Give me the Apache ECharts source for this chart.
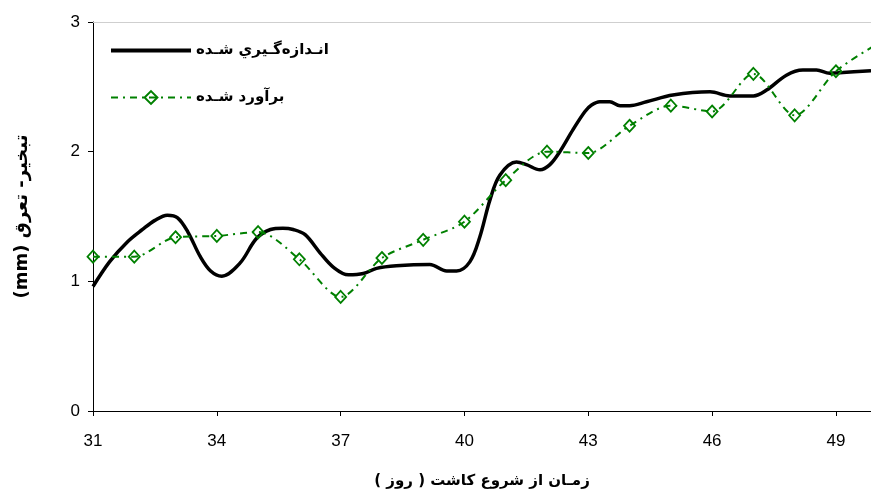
<!DOCTYPE html>
<html>
<head>
<meta charset="utf-8">
<script src="https://cdn.jsdelivr.net/npm/echarts@6/dist/echarts.min.js"></script>
<style>
html,body{margin:0;padding:0;background:#fff;}
#chart{width:871px;height:497px;}
</style>
</head>
<body>
<div id="chart"></div>
<script>
// ---- data ----
const measuredDays = [31.0, 31.4, 31.82, 32.2, 32.5, 32.8, 33.05, 33.3, 33.6, 33.85, 34.12, 34.56, 34.96, 35.3, 35.6, 35.85, 36.14, 36.5, 36.82, 37.19, 37.55, 37.87, 38.35, 39.16, 39.57, 39.81, 40.13, 40.37, 40.62, 40.86, 41.26, 41.5, 41.83, 42.07, 42.31, 42.63, 42.92, 43.08, 43.28, 43.52, 43.77, 44.0, 44.41, 45.05, 45.95, 46.43, 47.0, 47.32, 47.8, 48.2, 48.53, 48.85, 49.17, 49.85];
const measuredValues = [0.96, 1.15, 1.30, 1.40, 1.47, 1.51, 1.49, 1.38, 1.19, 1.08, 1.04, 1.14, 1.33, 1.40, 1.41, 1.40, 1.36, 1.22, 1.11, 1.05, 1.06, 1.10, 1.12, 1.13, 1.08, 1.08, 1.15, 1.34, 1.63, 1.82, 1.92, 1.90, 1.86, 1.90, 2.00, 2.17, 2.31, 2.36, 2.385, 2.385, 2.355, 2.355, 2.385, 2.437, 2.462, 2.43, 2.43, 2.475, 2.59, 2.63, 2.63, 2.605, 2.61, 2.625];
const estimatedDays = [31, 32, 33, 34, 35, 36, 37, 38, 39, 40, 41, 42, 43, 44, 45, 46, 47, 48, 49, 50];
const estimatedValues = [1.19, 1.19, 1.34, 1.35, 1.38, 1.17, 0.88, 1.18, 1.32, 1.46, 1.78, 2.00, 1.99, 2.20, 2.355, 2.31, 2.60, 2.28, 2.62, 2.83];
const xTickValues = [31, 34, 37, 40, 43, 46, 49];
const seriesNames = ['انـدازه‌گـيري شـده', 'برآورد شـده'];
const xAxisTitle = 'زمـان از شروع كاشت ( روز )';
const yAxisTitle = 'تبخير- تعرق (mm)';

const RLE = '\u202B', PDF = '\u202C';
const arabicFont = 'DejaVu Sans';
const numFont = 'Liberation Sans';

const chart = echarts.init(document.getElementById('chart'), null, {renderer: 'canvas'});
chart.setOption({
  animation: false,
  backgroundColor: '#ffffff',
  grid: {left: 93, right: 0, top: 22, bottom: 86, containLabel: false},
  legend: {
    orient: 'vertical',
    left: 104,
    top: 38,
    itemWidth: 80,
    itemHeight: 16,
    itemGap: 32,
    align: 'left',
    textStyle: {fontFamily: arabicFont, fontWeight: 'bold', fontSize: 15, color: '#000'},
    formatter: function (n) { return RLE + n + PDF; },
    data: [
      {name: seriesNames[0], itemStyle: {opacity: 0}, lineStyle: {width: 4, color: '#000'}},
      {name: seriesNames[1]}
    ]
  },
  xAxis: {
    type: 'value',
    min: 31,
    max: 49.85,
    name: RLE + xAxisTitle + PDF,
    nameLocation: 'middle',
    nameGap: 63,
    nameTextStyle: {fontFamily: arabicFont, fontWeight: 'bold', fontSize: 15, color: '#000'},
    axisLine: {show: true, onZero: false, lineStyle: {color: '#000', width: 1}},
    axisTick: {show: true, length: 5, customValues: xTickValues, lineStyle: {color: '#000'}},
    axisLabel: {customValues: xTickValues, margin: 22, fontFamily: numFont, fontSize: 17, color: '#000'},
    splitLine: {show: false}
  },
  yAxis: {
    type: 'value',
    min: 0,
    max: 3,
    interval: 1,
    name: RLE + yAxisTitle + PDF,
    nameLocation: 'middle',
    nameRotate: 90,
    nameGap: 62,
    nameTextStyle: {fontFamily: arabicFont, fontWeight: 'bold', fontSize: 18, color: '#000'},
    axisLine: {show: true, lineStyle: {color: '#000', width: 1}},
    axisTick: {show: true, length: 5, lineStyle: {color: '#000'}},
    axisLabel: {margin: 13, fontFamily: numFont, fontSize: 17, color: '#000'},
    splitLine: {show: false}
  },
  series: [
    {
      name: seriesNames[0],
      type: 'line',
      data: measuredDays.map((d, i) => [d, measuredValues[i]]),
      smooth: 0.35,
      showSymbol: false,
      symbol: 'none',
      clip: true,
      lineStyle: {color: '#000', width: 3.5},
      itemStyle: {color: '#000'},
      markLine: {
        silent: true,
        symbol: 'none',
        label: {show: false},
        lineStyle: {color: '#cfcfcf', width: 1, type: 'solid'},
        data: [{yAxis: 3}]
      },
      z: 3
    },
    {
      name: seriesNames[1],
      type: 'line',
      data: estimatedDays.map((d, i) => [d, estimatedValues[i]]),
      smooth: 0.3,
      clip: true,
      symbol: 'diamond',
      symbolSize: [11, 12],
      lineStyle: {color: '#008000', width: 2, type: [7, 5, 2, 5]},
      itemStyle: {color: 'rgba(255,255,255,0)', borderColor: '#008000', borderWidth: 1.8},
      z: 4
    }
  ]
});
</script>
</body>
</html>
